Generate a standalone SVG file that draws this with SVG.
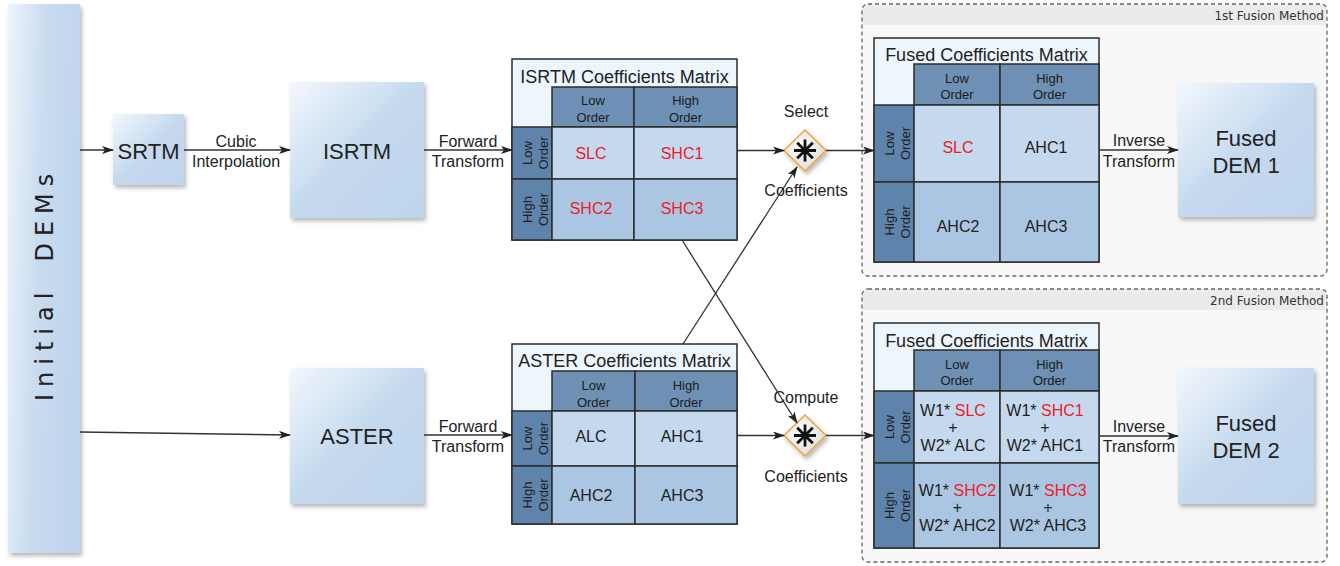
<svg xmlns="http://www.w3.org/2000/svg" width="1340" height="566" viewBox="0 0 1340 566">
<style>
text{font-family:"Liberation Sans",Arial,sans-serif;fill:#222}
.lbl{font-size:16px;text-anchor:middle}
.big{font-size:22px;text-anchor:middle}
.ttl{font-size:18px;text-anchor:middle}
.hd{font-size:13px;text-anchor:middle;fill:#1c1c1c}
.cell{font-size:16px;text-anchor:middle}
.red{fill:#ee1c25}
.meth{font-family:"DejaVu Sans",sans-serif;font-size:12px;text-anchor:end;fill:#333}
.box{fill:url(#gBox);filter:url(#sh)}
.mt{fill:#eef6fd;stroke:#2b2b2b;stroke-width:1.5}
.hc{fill:#6d90b4;stroke:#2b2b2b;stroke-width:1.5}
.rh{fill:#5f84ab;stroke:#2b2b2b;stroke-width:1.5}
.c1{fill:#c4d9ee;stroke:#2b2b2b;stroke-width:1.5}
.c2{fill:#aac6e3;stroke:#2b2b2b;stroke-width:1.5}
.con{fill:none;stroke:#333;stroke-width:1.3;marker-end:url(#ah)}
.dia{fill:url(#gDia);stroke:#f0a33c;stroke-width:1.5;filter:url(#sh)}
.ast{stroke:#111;stroke-width:2.8;stroke-linecap:butt}
.cont{fill:none;stroke:#666;stroke-width:1.3;stroke-dasharray:4 3}
</style>
<defs>
<linearGradient id="gBox" x1="0" y1="0" x2="1" y2="1">
<stop offset="0" stop-color="#f2f7fd"/>
<stop offset="0.35" stop-color="#d3e3f3"/>
<stop offset="0.5" stop-color="#c4d9ee"/>
<stop offset="1" stop-color="#bfd5ec"/>
</linearGradient>
<linearGradient id="gBar" x1="0" y1="0" x2="1" y2="0.25">
<stop offset="0" stop-color="#eef4fb"/>
<stop offset="0.5" stop-color="#c9dcf0"/>
<stop offset="1" stop-color="#bfd5ec"/>
</linearGradient>
<radialGradient id="gDia" cx="0.4" cy="0.4" r="0.7">
<stop offset="0" stop-color="#ffffff"/>
<stop offset="1" stop-color="#d9d9d9"/>
</radialGradient>
<filter id="sh" x="-20%" y="-20%" width="140%" height="140%">
<feDropShadow dx="2" dy="3" stdDeviation="2" flood-color="#000" flood-opacity="0.28"/>
</filter>
<marker id="ah" viewBox="0 0 12 8" refX="11" refY="4" markerWidth="12" markerHeight="8" markerUnits="userSpaceOnUse" orient="auto">
<path d="M0,0 L12,4 L0,8 L3,4 Z" fill="#222"/>
</marker>
</defs>

<g id="method1">
<rect x="862" y="4" width="465" height="272" rx="6" fill="#f8f8f8"/>
<path d="M862,25 V10 A6,6 0 0 1 868,4 H1321 A6,6 0 0 1 1327,10 V25 Z" fill="#ebebeb"/>
<rect class="cont" x="862" y="4" width="465" height="272" rx="6"/>
<text class="meth" x="1324" y="20">1st Fusion Method</text>
</g>
<g id="method2">
<rect x="862" y="289" width="465" height="273" rx="6" fill="#f8f8f8"/>
<path d="M862,310 V295 A6,6 0 0 1 868,289 H1321 A6,6 0 0 1 1327,295 V310 Z" fill="#ebebeb"/>
<rect class="cont" x="862" y="289" width="465" height="273" rx="6"/>
<text class="meth" x="1324" y="305">2nd Fusion Method</text>
</g>

<g id="initial-dems">
<rect x="8" y="4" width="72" height="549" fill="url(#gBar)" filter="url(#sh)"/>
<text transform="translate(53,401) rotate(-90)" style="font-family:'DejaVu Sans',sans-serif;font-size:24px;letter-spacing:7px;fill:#222">Initial<tspan dx="24">DEMs</tspan></text>
</g>

<g id="srtm">
<rect class="box" x="113" y="114" width="71" height="71"/>
<text class="big" x="148.5" y="159">SRTM</text>
</g>
<g id="isrtm">
<rect class="box" x="290" y="82" width="134" height="136"/>
<text class="big" x="357" y="159">ISRTM</text>
</g>
<g id="aster">
<rect class="box" x="290" y="368" width="134" height="136"/>
<text class="big" x="357" y="444">ASTER</text>
</g>

<g id="isrtm-matrix">
<rect class="mt" x="512" y="59" width="225" height="181"/>
<text class="ttl" x="624.5" y="83">ISRTM Coefficients Matrix</text>
<rect class="hc" x="552" y="87" width="82" height="40"/>
<rect class="hc" x="634" y="87" width="103" height="40"/>
<text class="hd" x="593" y="105">Low</text><text class="hd" x="593" y="122">Order</text>
<text class="hd" x="685.5" y="105">High</text><text class="hd" x="685.5" y="122">Order</text>
<rect class="rh" x="512" y="127" width="40" height="52"/>
<rect class="rh" x="512" y="179" width="40" height="61"/>
<text class="hd" transform="translate(532,153) rotate(-90)"><tspan x="0" y="0">Low</tspan><tspan x="0" y="16">Order</tspan></text>
<text class="hd" transform="translate(532,209.5) rotate(-90)"><tspan x="0" y="0">High</tspan><tspan x="0" y="16">Order</tspan></text>
<rect class="c1" x="552" y="127" width="82" height="52"/>
<rect class="c1" x="634" y="127" width="103" height="52"/>
<rect class="c2" x="552" y="179" width="82" height="61"/>
<rect class="c2" x="634" y="179" width="103" height="61"/>
<text class="cell red" x="591" y="159">SLC</text>
<text class="cell red" x="682" y="159">SHC1</text>
<text class="cell red" x="591" y="214">SHC2</text>
<text class="cell red" x="682" y="214">SHC3</text>
</g>

<g id="aster-matrix">
<rect class="mt" x="512" y="344" width="225" height="180"/>
<text class="ttl" x="624.5" y="367">ASTER Coefficients Matrix</text>
<rect class="hc" x="552" y="371" width="83" height="40"/>
<rect class="hc" x="635" y="371" width="102" height="40"/>
<text class="hd" x="593.5" y="390">Low</text><text class="hd" x="593.5" y="407">Order</text>
<text class="hd" x="686" y="390">High</text><text class="hd" x="686" y="407">Order</text>
<rect class="rh" x="512" y="411" width="40" height="55"/>
<rect class="rh" x="512" y="466" width="40" height="58"/>
<text class="hd" transform="translate(532,438.5) rotate(-90)"><tspan x="0" y="0">Low</tspan><tspan x="0" y="16">Order</tspan></text>
<text class="hd" transform="translate(532,495) rotate(-90)"><tspan x="0" y="0">High</tspan><tspan x="0" y="16">Order</tspan></text>
<rect class="c1" x="552" y="411" width="83" height="55"/>
<rect class="c1" x="635" y="411" width="102" height="55"/>
<rect class="c2" x="552" y="466" width="83" height="58"/>
<rect class="c2" x="635" y="466" width="102" height="58"/>
<text class="cell" x="591" y="442">ALC</text>
<text class="cell" x="682" y="442">AHC1</text>
<text class="cell" x="591" y="501">AHC2</text>
<text class="cell" x="682" y="501">AHC3</text>
</g>

<g id="select">
<polygon class="dia" points="805,130 826,150.5 805,171 784,150.5"/>
<path class="ast" d="M805,139.5 V161.5 M794,150.5 H816 M797.2,142.7 L812.8,158.3 M812.8,142.7 L797.2,158.3"/>
<text class="lbl" x="806" y="117">Select</text>
<text class="lbl" x="806" y="196">Coefficients</text>
</g>
<g id="compute">
<polygon class="dia" points="805,415 826,435.5 805,456 784,435.5"/>
<path class="ast" d="M805,424.5 V446.5 M794,435.5 H816 M797.2,427.7 L812.8,443.3 M812.8,427.7 L797.2,443.3"/>
<text class="lbl" x="806" y="403">Compute</text>
<text class="lbl" x="806" y="482">Coefficients</text>
</g>

<g id="fused-matrix-1">
<rect class="mt" x="874" y="38" width="225" height="224"/>
<text class="ttl" x="986.5" y="61">Fused Coefficients Matrix</text>
<rect class="hc" x="914" y="64" width="86" height="41"/>
<rect class="hc" x="1000" y="64" width="99" height="41"/>
<text class="hd" x="957" y="83">Low</text><text class="hd" x="957" y="99">Order</text>
<text class="hd" x="1049.5" y="83">High</text><text class="hd" x="1049.5" y="99">Order</text>
<rect class="rh" x="874" y="105" width="40" height="77"/>
<rect class="rh" x="874" y="182" width="40" height="80"/>
<text class="hd" transform="translate(894,143.5) rotate(-90)"><tspan x="0" y="0">Low</tspan><tspan x="0" y="16">Order</tspan></text>
<text class="hd" transform="translate(894,222) rotate(-90)"><tspan x="0" y="0">High</tspan><tspan x="0" y="16">Order</tspan></text>
<rect class="c1" x="914" y="105" width="86" height="77"/>
<rect class="c1" x="1000" y="105" width="99" height="77"/>
<rect class="c2" x="914" y="182" width="86" height="80"/>
<rect class="c2" x="1000" y="182" width="99" height="80"/>
<text class="cell red" x="958" y="153">SLC</text>
<text class="cell" x="1046" y="153">AHC1</text>
<text class="cell" x="958" y="232">AHC2</text>
<text class="cell" x="1046" y="232">AHC3</text>
</g>

<g id="fused-matrix-2">
<rect class="mt" x="874" y="323" width="225" height="225"/>
<text class="ttl" x="986.5" y="347">Fused Coefficients Matrix</text>
<rect class="hc" x="914" y="350" width="86" height="41"/>
<rect class="hc" x="1000" y="350" width="99" height="41"/>
<text class="hd" x="957" y="369">Low</text><text class="hd" x="957" y="385">Order</text>
<text class="hd" x="1049.5" y="369">High</text><text class="hd" x="1049.5" y="385">Order</text>
<rect class="rh" x="874" y="391" width="40" height="72"/>
<rect class="rh" x="874" y="463" width="40" height="85"/>
<text class="hd" transform="translate(894,427) rotate(-90)"><tspan x="0" y="0">Low</tspan><tspan x="0" y="16">Order</tspan></text>
<text class="hd" transform="translate(894,505.5) rotate(-90)"><tspan x="0" y="0">High</tspan><tspan x="0" y="16">Order</tspan></text>
<rect class="c1" x="914" y="391" width="86" height="72"/>
<rect class="c1" x="1000" y="391" width="99" height="72"/>
<rect class="c2" x="914" y="463" width="86" height="85"/>
<rect class="c2" x="1000" y="463" width="99" height="85"/>
<text class="cell" x="953" y="416">W1* <tspan class="red">SLC</tspan></text>
<text class="cell" x="953" y="433">+</text>
<text class="cell" x="953" y="451">W2* ALC</text>
<text class="cell" x="1045" y="416">W1* <tspan class="red">SHC1</tspan></text>
<text class="cell" x="1045" y="433">+</text>
<text class="cell" x="1045" y="451">W2* AHC1</text>
<text class="cell" x="957.5" y="496">W1* <tspan class="red">SHC2</tspan></text>
<text class="cell" x="957.5" y="513">+</text>
<text class="cell" x="957.5" y="531">W2* AHC2</text>
<text class="cell" x="1048" y="496">W1* <tspan class="red">SHC3</tspan></text>
<text class="cell" x="1048" y="513">+</text>
<text class="cell" x="1048" y="531">W2* AHC3</text>
</g>

<g id="fused-dem-1">
<rect class="box" x="1178" y="83" width="136" height="134"/>
<text class="big" x="1246" y="146">Fused</text>
<text class="big" x="1246" y="173">DEM 1</text>
</g>
<g id="fused-dem-2">
<rect class="box" x="1178" y="368" width="136" height="136"/>
<text class="big" x="1246" y="431">Fused</text>
<text class="big" x="1246" y="458">DEM 2</text>
</g>

<g id="connectors">
<path class="con" d="M80,150 H113"/>
<path class="con" d="M184,150 H290"/>
<path class="con" d="M80,432 L290,435"/>
<path class="con" d="M424,150 H512"/>
<path class="con" d="M424,435 H512"/>
<path class="con" d="M737,150.5 H784"/>
<path class="con" d="M826,150.5 H874"/>
<path class="con" d="M737,435.5 H784"/>
<path class="con" d="M826,435.5 H874"/>
<path class="con" d="M682,240 L797,423"/>
<path class="con" d="M683,344 L797,167"/>
<path class="con" d="M1099,150 H1178"/>
<path class="con" d="M1099,436 H1178"/>
<text class="lbl" x="236" y="147">Cubic</text>
<text class="lbl" x="236" y="167">Interpolation</text>
<text class="lbl" x="468" y="147">Forward</text>
<text class="lbl" x="468" y="167">Transform</text>
<text class="lbl" x="468" y="432">Forward</text>
<text class="lbl" x="468" y="452">Transform</text>
<text class="lbl" x="1139" y="146">Inverse</text>
<text class="lbl" x="1139" y="167">Transform</text>
<text class="lbl" x="1139" y="432">Inverse</text>
<text class="lbl" x="1139" y="452">Transform</text>
</g>
</svg>
